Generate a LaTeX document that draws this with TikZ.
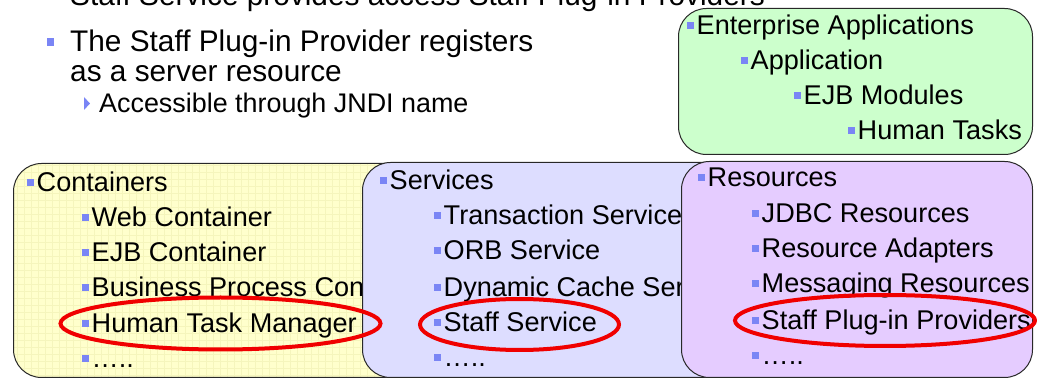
\documentclass[tikz,border=0pt]{standalone}
\usepackage{fontspec}
\setmainfont{Liberation Sans}
\usetikzlibrary{shapes.geometric}
\definecolor{bul}{RGB}{122,133,245}
\definecolor{yel}{RGB}{255,255,204}
\definecolor{yelgrid}{RGB}{245,245,188}
\definecolor{blu}{RGB}{221,221,255}
\definecolor{pur}{RGB}{229,204,255}
\definecolor{grn}{RGB}{204,255,204}
\definecolor{edge}{RGB}{40,40,40}
\definecolor{hl}{RGB}{240,0,0}
% small square bullet placed before an item
\newcommand\sqb{{\color{bul}\rule[6pt]{7pt}{7pt}}\hspace{2.5pt}}
\begin{document}
\begin{tikzpicture}[x=1pt,y=-1pt,
  panel/.style={draw=edge, line width=1pt, rounded corners=28pt, inner sep=0pt, anchor=north west},
  item/.style={anchor=base west, inner sep=0pt, font=\fontsize{27.1}{30}\selectfont},
  body/.style={anchor=base west, inner sep=0pt, font=\fontsize{29.8}{30}\selectfont},
  subbody/.style={anchor=base west, inner sep=0pt, font=\fontsize{26.9}{30}\selectfont},
  ring/.style={draw=hl, line width=4pt, ellipse, inner sep=0pt}]
\useasboundingbox (0,0) rectangle (1037,379);
\clip (0,0) rectangle (1037,379);

% bullet text on the slide
\node[body] (intro) at (70,6) {Staff Service provides access Staff Plug-in Providers};
\node[body] (reg1) at (70,52) {\llap{{\color{bul}\rule[6pt]{7pt}{8pt}}\hspace{16pt}}The Staff Plug-in Provider registers};
\node[body] (reg2) at (70,82) {as a server resource};
\node[subbody] (jndi) at (99,113) {Accessible through JNDI name};
\fill[bul] ([shift={(-15pt,3pt)}]jndi.base west) -- ([shift={(-15pt,16pt)}]jndi.base west)
  -- ([shift={(-9pt,9.5pt)}]jndi.base west) -- cycle;

% enterprise applications tree
\node[panel, fill=grn, minimum width=354pt, minimum height=146pt] (apps) at (678,8) {};
\node[item] (ea) at (687,35) {\sqb Enterprise Applications};
\node[item] (app) at (741,70) {\sqb Application};
\node[item] (ejbm) at (794,105) {\sqb EJB Modules};
\node[item] (ht) at (848,140) {\sqb Human Tasks};

% containers
\node[panel, fill=yel, minimum width=427pt, minimum height=214pt,
  path picture={\draw[yelgrid, line width=0.7pt, step=7pt]
    (path picture bounding box.south west) grid (path picture bounding box.north east);}]
  (cont) at (13,163) {};
\node[item] (c0) at (27,192) {\sqb Containers};
\node[item] (c1) at (82,227) {\sqb Web Container};
\node[item] (c2) at (82,262) {\sqb EJB Container};
\node[item] (c3) at (82,297) {\sqb Business Process Container};
\node[item] (c4) at (82,333) {\sqb Human Task Manager};
\node[item] (c5) at (82,368) {\sqb …..};

% services
\node[panel, fill=blu, minimum width=398pt, minimum height=215pt] (serv) at (362,162) {};
\node[item] (s0) at (380,190) {\sqb Services};
\node[item] (s1) at (434,225) {\sqb Transaction Service};
\node[item] (s2) at (434,260) {\sqb ORB Service};
\node[item] (s3) at (434,297) {\sqb Dynamic Cache Service};
\node[item] (s4) at (434,332) {\sqb Staff Service};
\node[item] (s5) at (434,367) {\sqb …..};

% resources
\node[panel, fill=pur, minimum width=351pt, minimum height=216pt] (res) at (681,161) {};
\node[item] (r0) at (698,187) {\sqb Resources};
\node[item] (r1) at (752,223) {\sqb JDBC Resources};
\node[item] (r2) at (752,258) {\sqb Resource Adapters};
\node[item] (r3) at (752,293) {\sqb Messaging Resources};
\node[item] (r4) at (752,330) {\sqb Staff Plug-in Providers};
\node[item] (r5) at (752,365) {\sqb …..};

% highlights
\node[ring, minimum width=320pt, minimum height=52pt] (hlhtm) at (220.5,323.5) {};
\node[ring, minimum width=199pt, minimum height=51pt] (hlss) at (519.5,324.5) {};
\node[ring, minimum width=300pt, minimum height=51pt] (hlspp) at (885,320.5) {};
\end{tikzpicture}
\end{document}
